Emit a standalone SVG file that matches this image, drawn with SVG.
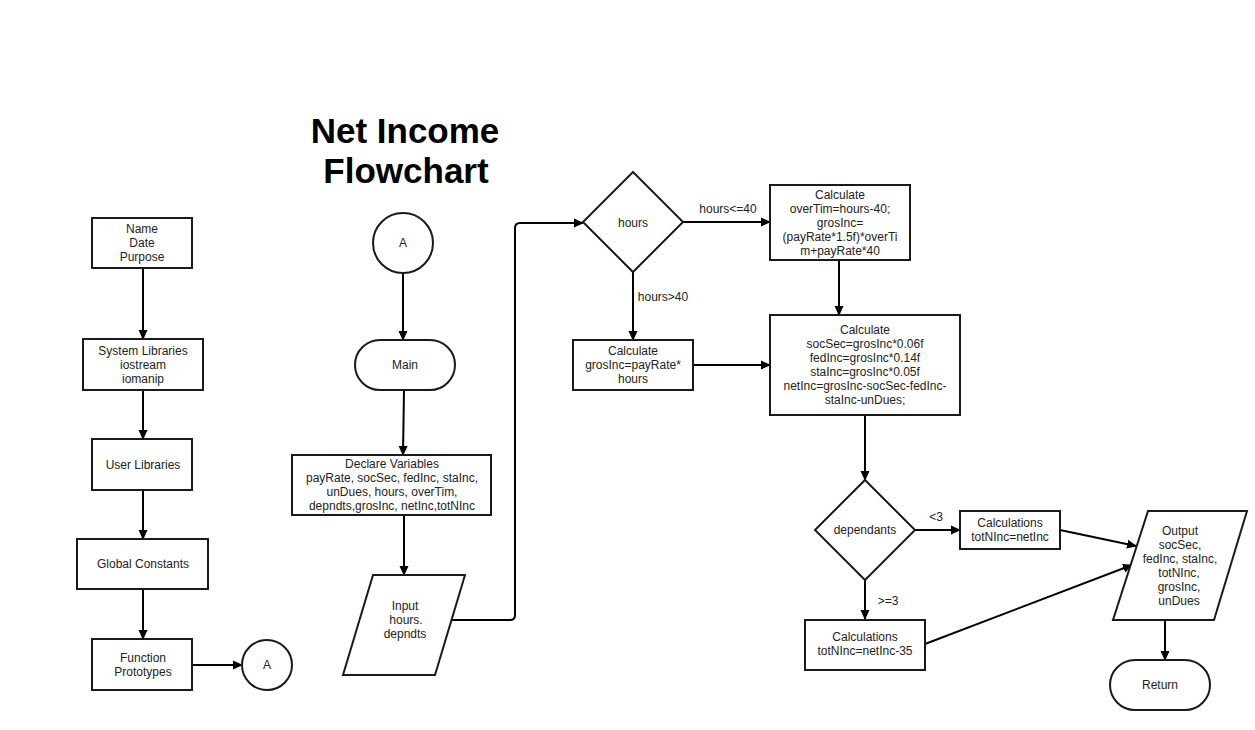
<svg xmlns="http://www.w3.org/2000/svg" width="1255" height="730" viewBox="0 0 1255 730">
<style>
.s{fill:#fff;stroke:#1a1a1a;stroke-width:2}
.t{font-family:"Liberation Sans",Arial,sans-serif;font-size:12px;fill:#222;text-anchor:middle}
.c{fill:none;stroke:#000;stroke-width:2}
.title{font-family:"Liberation Sans",Arial,sans-serif;font-size:35px;font-weight:bold;fill:#000;text-anchor:middle}
</style>
<defs>
<marker id="ah" markerUnits="userSpaceOnUse" markerWidth="10" markerHeight="10" viewBox="0 0 10 10" refX="9" refY="5" orient="auto">
<path d="M0,0.5 L10,5 L0,9.5 Z" fill="#000"/>
</marker>
</defs>
<rect width="1255" height="730" fill="#fff"/>
<g id="title">
<text class="title" x="405" y="143">Net Income</text>
<text class="title" x="406" y="183">Flowchart</text>
</g>
<g id="connectors">
<path class="c" d="M143,268 V339" marker-end="url(#ah)"/>
<path class="c" d="M143,390 V439" marker-end="url(#ah)"/>
<path class="c" d="M143,490 V539" marker-end="url(#ah)"/>
<path class="c" d="M143,589 V639" marker-end="url(#ah)"/>
<path class="c" d="M192,665 H242" marker-end="url(#ah)"/>
<path class="c" d="M403,273 V340" marker-end="url(#ah)"/>
<path class="c" d="M404,390 L403,455" marker-end="url(#ah)"/>
<path class="c" d="M404,515 V575" marker-end="url(#ah)"/>
<path class="c" d="M450,620 H510 Q515,620 515,615 V228 Q515,223 520,223 H583" marker-end="url(#ah)"/>
<path class="c" d="M683,222 H770" marker-end="url(#ah)"/>
<path class="c" d="M633,272 V340" marker-end="url(#ah)"/>
<path class="c" d="M693,365 H770" marker-end="url(#ah)"/>
<path class="c" d="M839,260 V315" marker-end="url(#ah)"/>
<path class="c" d="M865,415 V480" marker-end="url(#ah)"/>
<path class="c" d="M915,530 H960" marker-end="url(#ah)"/>
<path class="c" d="M865,580 V619" marker-end="url(#ah)"/>
<path class="c" d="M1060,530 L1136,546" marker-end="url(#ah)"/>
<path class="c" d="M925,644 L1132,565" marker-end="url(#ah)"/>
<path class="c" d="M1165,620 V660" marker-end="url(#ah)"/>
<text class="t" x="728" y="213">hours&lt;=40</text>
<text class="t" x="663" y="301">hours&gt;40</text>
<text class="t" x="936" y="521">&lt;3</text>
<text class="t" x="888" y="605">&gt;=3</text>
</g>
<g id="n_name"><rect class="s" x="92" y="218" width="100" height="50"/>
<text class="t" x="142" y="233">Name</text><text class="t" x="142" y="247">Date</text><text class="t" x="142" y="261">Purpose</text></g>
<g id="n_syslib"><rect class="s" x="83" y="339" width="120" height="51"/>
<text class="t" x="143" y="355">System Libraries</text><text class="t" x="143" y="369">iostream</text><text class="t" x="143" y="383">iomanip</text></g>
<g id="n_userlib"><rect class="s" x="92" y="439" width="100" height="51"/>
<text class="t" x="143" y="469">User Libraries</text></g>
<g id="n_global"><rect class="s" x="77" y="539" width="131" height="50"/>
<text class="t" x="143" y="568">Global Constants</text></g>
<g id="n_proto"><rect class="s" x="92" y="639" width="100" height="51"/>
<text class="t" x="143" y="662">Function</text><text class="t" x="143" y="676">Prototypes</text></g>
<g id="n_a1"><circle class="s" cx="267" cy="665" r="25"/>
<text class="t" x="267" y="669">A</text></g>
<g id="n_a2"><circle class="s" cx="403" cy="243" r="30"/>
<text class="t" x="403" y="247">A</text></g>
<g id="n_main"><rect class="s" x="355" y="340" width="100" height="50" rx="25" ry="25"/>
<text class="t" x="405" y="369">Main</text></g>
<g id="n_declare"><rect class="s" x="292" y="455" width="199" height="60"/>
<text class="t" x="392" y="468">Declare Variables</text>
<text class="t" x="392" y="482">payRate, socSec, fedInc, staInc,</text>
<text class="t" x="392" y="496">unDues, hours, overTim,</text>
<text class="t" x="392" y="510">depndts,grosInc, netInc,totNInc</text></g>
<g id="n_input"><polygon class="s" points="373,575 465,575 435,675 343,675"/>
<text class="t" x="405" y="610">Input</text><text class="t" x="406" y="624">hours.</text><text class="t" x="405" y="638">depndts</text></g>
<g id="n_hours"><polygon class="s" points="633,172 683,222 633,272 583,222"/>
<text class="t" x="633" y="227">hours</text></g>
<g id="n_over"><rect class="s" x="770" y="185" width="140" height="75"/>
<text class="t" x="840" y="199">Calculate</text>
<text class="t" x="840" y="213">overTim=hours-40;</text>
<text class="t" x="840" y="227">grosInc=</text>
<text class="t" x="840" y="241">(payRate*1.5f)*overTi</text>
<text class="t" x="840" y="255">m+payRate*40</text></g>
<g id="n_gros"><rect class="s" x="573" y="340" width="120" height="50"/>
<text class="t" x="633" y="355">Calculate</text>
<text class="t" x="633" y="369">grosInc=payRate*</text>
<text class="t" x="633" y="383">hours</text></g>
<g id="n_calc"><rect class="s" x="770" y="315" width="190" height="100"/>
<text class="t" x="865" y="334">Calculate</text>
<text class="t" x="865" y="348">socSec=grosInc*0.06f</text>
<text class="t" x="865" y="362">fedInc=grosInc*0.14f</text>
<text class="t" x="865" y="376">staInc=grosInc*0.05f</text>
<text class="t" x="865" y="390">netInc=grosInc-socSec-fedInc-</text>
<text class="t" x="865" y="404">staInc-unDues;</text></g>
<g id="n_dep"><polygon class="s" points="865,480 915,530 865,580 815,530"/>
<text class="t" x="865" y="534">dependants</text></g>
<g id="n_tot1"><rect class="s" x="960" y="511" width="100" height="38"/>
<text class="t" x="1010" y="527">Calculations</text>
<text class="t" x="1010" y="541">totNInc=netInc</text></g>
<g id="n_tot2"><rect class="s" x="805" y="620" width="120" height="50"/>
<text class="t" x="865" y="641">Calculations</text>
<text class="t" x="865" y="655">totNInc=netInc-35</text></g>
<g id="n_output"><polygon class="s" points="1148,511 1247,511 1214,620 1113,620"/>
<text class="t" x="1180" y="535">Output</text>
<text class="t" x="1180" y="549">socSec,</text>
<text class="t" x="1180" y="563">fedInc, staInc,</text>
<text class="t" x="1179" y="577">totNInc,</text>
<text class="t" x="1179" y="591">grosInc,</text>
<text class="t" x="1179" y="605">unDues</text></g>
<g id="n_return"><rect class="s" x="1110" y="660" width="100" height="50" rx="25" ry="25"/>
<text class="t" x="1160" y="689">Return</text></g>
</svg>
